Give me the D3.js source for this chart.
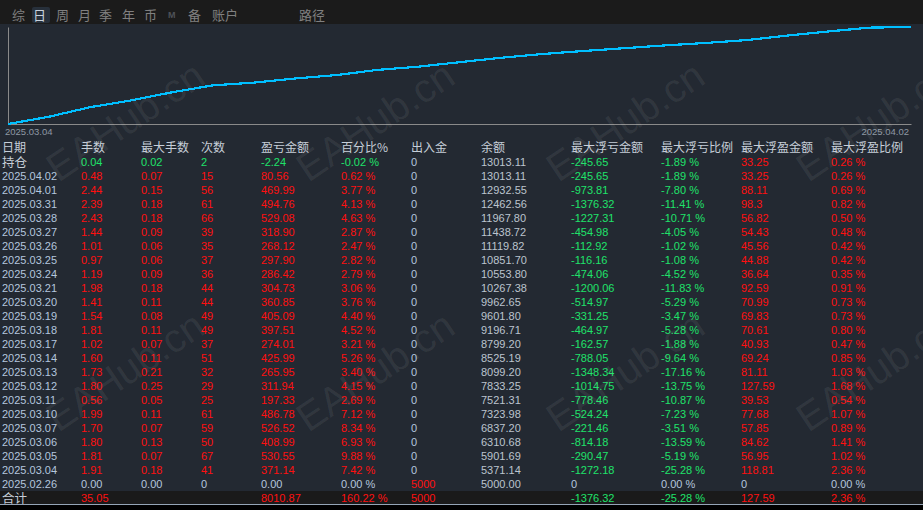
<!DOCTYPE html>
<html>
<head>
<meta charset="utf-8">
<script src="https://cdn.jsdelivr.net/npm/d3@7/dist/d3.min.js"></script>
<style>
  html, body { margin: 0; padding: 0; background: #000; }
  svg { display: block; }
</style>
</head>
<body>
<svg id="report" width="923" height="510"></svg>
<script>
// tabs in the top bar and the table header
const tabs = ["综", "日", "周", "月", "季", "年", "币", "M", "备", "账户", "路径"];
const columns = ["日期", "手数", "最大手数", "次数", "盈亏金额", "百分比%", "出入金",
  "余额", "最大浮亏金额", "最大浮亏比例", "最大浮盈金额", "最大浮盈比例"];
const axisLabels = ["2025.03.04", "2025.04.02"];

// daily rows, newest first ("持仓" = open positions)
const dates = ["持仓", "2025.04.02", "2025.04.01", "2025.03.31", "2025.03.28", "2025.03.27",
  "2025.03.26", "2025.03.25", "2025.03.24", "2025.03.21", "2025.03.20", "2025.03.19",
  "2025.03.18", "2025.03.17", "2025.03.14", "2025.03.13", "2025.03.12", "2025.03.11",
  "2025.03.10", "2025.03.07", "2025.03.06", "2025.03.05", "2025.03.04", "2025.02.26"];
const lots = [0.04, 0.48, 2.44, 2.39, 2.43, 1.44, 1.01, 0.97, 1.19, 1.98, 1.41, 1.54,
  1.81, 1.02, 1.60, 1.73, 1.80, 0.56, 1.99, 1.70, 1.80, 1.81, 1.91, 0];
const maxLots = [0.02, 0.07, 0.15, 0.18, 0.18, 0.09, 0.06, 0.06, 0.09, 0.18, 0.11, 0.08,
  0.11, 0.07, 0.11, 0.21, 0.25, 0.05, 0.11, 0.07, 0.13, 0.07, 0.18, 0];
const trades = [2, 15, 56, 61, 66, 39, 35, 37, 36, 44, 44, 49, 49, 37, 51, 32, 29, 25,
  61, 59, 50, 67, 41, 0];
const profit = [-2.24, 80.56, 469.99, 494.76, 529.08, 318.90, 268.12, 297.90, 286.42,
  304.73, 360.85, 405.09, 397.51, 274.01, 425.99, 265.95, 311.94, 197.33, 486.78,
  526.52, 408.99, 530.55, 371.14, 0];
const profitPct = [-0.02, 0.62, 3.77, 4.13, 4.63, 2.87, 2.47, 2.82, 2.79, 3.06, 3.76,
  4.40, 4.52, 3.21, 5.26, 3.40, 4.15, 2.69, 7.12, 8.34, 6.93, 9.88, 7.42, 0];
const deposits = [0, 0, 0, 0, 0, 0, 0, 0, 0, 0, 0, 0, 0, 0, 0, 0, 0, 0, 0, 0, 0, 0, 0, 5000];
const balance = [13013.11, 13013.11, 12932.55, 12462.56, 11967.80, 11438.72, 11119.82,
  10851.70, 10553.80, 10267.38, 9962.65, 9601.80, 9196.71, 8799.20, 8525.19, 8099.20,
  7833.25, 7521.31, 7323.98, 6837.20, 6310.68, 5901.69, 5371.14, 5000.00];
const maxFloatLoss = [-245.65, -245.65, -973.81, -1376.32, -1227.31, -454.98, -112.92,
  -116.16, -474.06, -1200.06, -514.97, -331.25, -464.97, -162.57, -788.05, -1348.34,
  -1014.75, -778.46, -524.24, -221.46, -814.18, -290.47, -1272.18, 0];
const maxFloatLossPct = [-1.89, -1.89, -7.80, -11.41, -10.71, -4.05, -1.02, -1.08,
  -4.52, -11.83, -5.29, -3.47, -5.28, -1.88, -9.64, -17.16, -13.75, -10.87, -7.23,
  -3.51, -13.59, -5.19, -25.28, 0];
const maxFloatProfit = [33.25, 33.25, 88.11, 98.3, 56.82, 54.43, 45.56, 44.88, 36.64,
  92.59, 70.99, 69.83, 70.61, 40.93, 69.24, 81.11, 127.59, 39.53, 77.68, 57.85, 84.62,
  56.95, 118.81, 0];
const maxFloatProfitPct = [0.26, 0.26, 0.69, 0.82, 0.50, 0.48, 0.42, 0.42, 0.35, 0.91,
  0.73, 0.73, 0.80, 0.47, 0.85, 1.03, 1.68, 0.54, 1.07, 0.89, 1.41, 1.02, 2.36, 0];

// totals row
const totalLabel = "合计";
const totals = [35.05, null, null, 8010.87, 160.22, 5000, null, -1376.32, -25.28, 127.59, 2.36];

const W = 923, H = 510;
const RED = "#ff1010", GREEN = "#1fe26a", PLAIN = "#b4c6de", HEAD = "#c6ced8";
const BG = "#232932";
const numFont = "'Liberation Sans', Arial, sans-serif";
const cjkFont = "'Noto Sans CJK SC', sans-serif";

const svg = d3.select("#report");

svg.append("rect").attr("width", W).attr("height", H).attr("fill", BG);

// ---- top tab bar ----
svg.append("rect").attr("width", W).attr("height", 24).attr("fill", "#1b1b1b");

const tabX = d3.scaleOrdinal().domain(tabs)
  .range([12, 33, 56, 78, 99, 122, 144, 168, 188, 212, 299]);

svg.append("rect")
  .attr("x", tabX("日") - 1).attr("y", 7).attr("width", 18).attr("height", 16)
  .attr("rx", 2).attr("fill", "#27303b");

svg.append("g").selectAll("text")
  .data(tabs)
  .join("text")
  .attr("x", (t) => tabX(t))
  .attr("y", (t) => (t === "M" ? 18 : 20))
  .attr("font-family", (t) => (t === "M" ? numFont : cjkFont))
  .attr("font-size", (t) => (t === "M" ? 9 : 13))
  .attr("font-weight", (t) => (t === "M" ? "bold" : "normal"))
  .attr("fill", (t) => (t === "日" ? "#c8d2de" : t === "M" ? "#4e5258" : "#808080"))
  .text((t) => t);

// ---- equity curve ----
const curveDates = dates.slice(1).reverse();
const curveBalance = balance.slice(1).reverse();
const curveData = curveDates.map((d, i) => ({ date: d, value: curveBalance[i] }));

const x = d3.scalePoint().domain(curveDates).range([8, 911]);
const y = d3.scaleLog().domain(d3.extent(curveBalance)).range([124, 27]);

const axisColor = "#8a8a8a";
svg.append("g")
  .attr("transform", "translate(0,124)")
  .call(d3.axisBottom(x).tickValues([]).tickSizeOuter(0))
  .call((g) => g.select(".domain").attr("stroke", axisColor));
svg.append("g")
  .attr("transform", "translate(8,0)")
  .call(d3.axisLeft(y).tickValues([]).tickSizeOuter(0))
  .call((g) => g.select(".domain").attr("stroke", axisColor));

svg.append("path")
  .datum(curveData)
  .attr("fill", "none")
  .attr("stroke", "#00bfff")
  .attr("stroke-width", 2.2)
  .attr("shape-rendering", "crispEdges")
  .attr("d", d3.line().x((d) => x(d.date)).y((d) => y(d.value)));

svg.append("g").selectAll("text")
  .data(axisLabels)
  .join("text")
  .attr("x", (t, i) => (i === 0 ? 5 : 909))
  .attr("y", 135)
  .attr("text-anchor", (t, i) => (i === 0 ? "start" : "end"))
  .attr("font-family", numFont)
  .attr("font-size", 9.5)
  .attr("fill", "#8e98a4")
  .text((t) => t);

// ---- table ----
const rowKeys = ["header", ...dates, totalLabel];
const rowY = d3.scaleBand().domain(rowKeys).range([141, 141 + rowKeys.length * 14]);
const colX = d3.scaleOrdinal().domain(columns)
  .range([2, 81, 141, 201, 261, 341, 411, 481, 571, 661, 741, 831]);

// totals row background + bottom rule
svg.append("rect")
  .attr("x", 0).attr("y", rowY(totalLabel)).attr("width", W).attr("height", 14)
  .attr("fill", "#1a1a1a");
svg.append("rect")
  .attr("x", 0).attr("y", rowY(totalLabel) + 14).attr("width", W).attr("height", H)
  .attr("fill", "#000");
svg.append("line")
  .attr("x1", 0).attr("x2", W)
  .attr("y1", rowY(totalLabel) + 13.5).attr("y2", rowY(totalLabel) + 13.5)
  .attr("stroke", "#95a4b6");

const signColor = (v) => (v > 0 ? RED : v < 0 ? GREEN : PLAIN);
const f2 = (v) => v.toFixed(2);   // keeps an ASCII hyphen for negatives
const pct = (v) => `${f2(v)} %`;

svg.append("g").selectAll("text")
  .data(columns)
  .join("text")
  .attr("x", (c) => colX(c))
  .attr("y", rowY("header") + 11)
  .attr("font-family", cjkFont)
  .attr("font-size", 12)
  .attr("fill", HEAD)
  .text((c) => c);

const cells = [];
dates.forEach((d, i) => {
  const rowColor = signColor(profit[i]);
  const row = [
    [d, d === "持仓" ? HEAD : PLAIN, d === "持仓" ? cjkFont : numFont],
    [f2(lots[i]), rowColor],
    [f2(maxLots[i]), rowColor],
    [String(trades[i]), rowColor],
    [f2(profit[i]), rowColor],
    [pct(profitPct[i]), rowColor],
    [String(deposits[i]), signColor(deposits[i])],
    [f2(balance[i]), "#bcc4ce"],
    [String(maxFloatLoss[i]), signColor(maxFloatLoss[i])],
    [pct(maxFloatLossPct[i]), signColor(maxFloatLossPct[i])],
    [String(maxFloatProfit[i]), signColor(maxFloatProfit[i])],
    [pct(maxFloatProfitPct[i]), signColor(maxFloatProfitPct[i])],
  ];
  row.forEach(([text, color, font], j) =>
    cells.push({ row: d, col: columns[j], text, color, font: font || numFont }));
});

cells.push({ row: totalLabel, col: columns[0], text: totalLabel, color: HEAD, font: cjkFont });
totals.forEach((v, j) => {
  if (v === null) return;
  const isPct = j === 4 || j === 8 || j === 10;
  const text = isPct ? pct(v) : j === 5 ? String(v) : f2(v);
  cells.push({ row: totalLabel, col: columns[j + 1], text, color: signColor(v), font: numFont });
});

svg.append("g").selectAll("text")
  .data(cells)
  .join("text")
  .attr("x", (c) => colX(c.col))
  .attr("y", (c) => rowY(c.row) + (c.font === cjkFont ? 11.5 : 11))
  .attr("font-family", (c) => c.font)
  .attr("font-size", (c) => (c.font === cjkFont ? 12.5 : 11))
  .attr("fill", (c) => c.color)
  .text((c) => c.text);

// ---- watermark ----
const marks = d3.cross([125, 375, 625, 875], [121, 371]);
svg.append("g").selectAll("text")
  .data(marks)
  .join("text")
  .attr("transform", ([mx, my]) => `translate(${mx},${my}) rotate(-34)`)
  .attr("text-anchor", "middle")
  .attr("dominant-baseline", "central")
  .attr("font-family", "'Liberation Sans', Arial, sans-serif")
  .attr("font-size", 40)
  .attr("fill", "#ffffff")
  .attr("fill-opacity", 0.075)
  .text("EAHub.cn");
</script>
</body>
</html>
